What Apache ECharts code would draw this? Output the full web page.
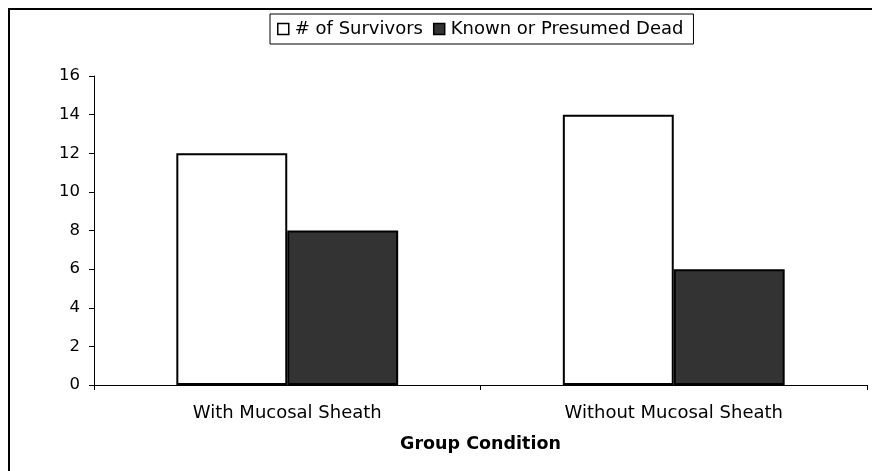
<!DOCTYPE html>
<html>
<head>
<meta charset="utf-8">
<script src="https://cdn.jsdelivr.net/npm/echarts@6/dist/echarts.min.js"></script>
<style>
  html, body { margin: 0; padding: 0; background: #fff; }
  #chart { width: 872px; height: 471px; }
</style>
</head>
<body>
<div id="chart"></div>
<script>
// Survival counts by group condition
const categories = ['With Mucosal Sheath', 'Without Mucosal Sheath'];
const survivors = [12, 14];
const dead = [8, 6];
const seriesNames = ['# of Survivors', 'Known or Presumed Dead'];
const yTicks = { min: 0, max: 16, interval: 2 };
const xAxisTitle = 'Group Condition';

const FONT = '"DejaVu Sans", Verdana, sans-serif';

const chart = echarts.init(document.getElementById('chart'), null, { renderer: 'canvas' });

chart.setOption({
  backgroundColor: '#ffffff',
  animation: false,
  textStyle: { fontFamily: FONT, color: '#000' },
  // chart-area frame
  graphic: [{
    type: 'rect',
    shape: { x: 9, y: 9, width: 1000, height: 1000 },
    style: { fill: 'none', stroke: '#000', lineWidth: 2 },
    silent: true,
    z: 100
  }],
  legend: {
    left: 270,
    top: 14,
    orient: 'horizontal',
    icon: 'rect',
    itemWidth: 11,
    itemHeight: 11,
    itemGap: 10,
    padding: [6, 10, 6, 7],
    borderColor: '#000',
    borderWidth: 1,
    borderRadius: 0,
    backgroundColor: '#fff',
    itemStyle: { borderColor: '#000', borderWidth: 1.5 },
    textStyle: { fontFamily: FONT, fontSize: 18, color: '#000', padding: [0, 0, 0, 1] },
    data: seriesNames
  },
  grid: {
    left: 94,
    right: 5,
    top: 76,
    bottom: 86,
    containLabel: false
  },
  xAxis: {
    type: 'category',
    data: categories,
    name: xAxisTitle,
    nameLocation: 'middle',
    nameGap: 50,
    nameTextStyle: { fontFamily: FONT, fontSize: 17.5, fontWeight: 'bold', color: '#000' },
    axisLine: { show: true, lineStyle: { color: '#000', width: 1 } },
    axisTick: { show: true, alignWithLabel: false, length: 5, inside: false, lineStyle: { color: '#000' } },
    axisLabel: { fontFamily: FONT, fontSize: 18, color: '#000', margin: 19 },
    splitLine: { show: false }
  },
  yAxis: {
    type: 'value',
    min: yTicks.min,
    max: yTicks.max,
    interval: yTicks.interval,
    axisLine: { show: true, lineStyle: { color: '#000', width: 1 } },
    axisTick: { show: true, length: 5, inside: false, lineStyle: { color: '#000' } },
    axisLabel: { fontFamily: FONT, fontSize: 16.5, color: '#000', margin: 14 },
    splitLine: { show: false }
  },
  series: [
    {
      name: seriesNames[0],
      type: 'bar',
      data: survivors,
      barGap: '0%',
      barCategoryGap: '42.6%',
      itemStyle: { color: '#ffffff', borderColor: '#000', borderWidth: 2 }
    },
    {
      name: seriesNames[1],
      type: 'bar',
      data: dead,
      itemStyle: { color: '#333333', borderColor: '#000', borderWidth: 2 }
    }
  ]
});
</script>
</body>
</html>
